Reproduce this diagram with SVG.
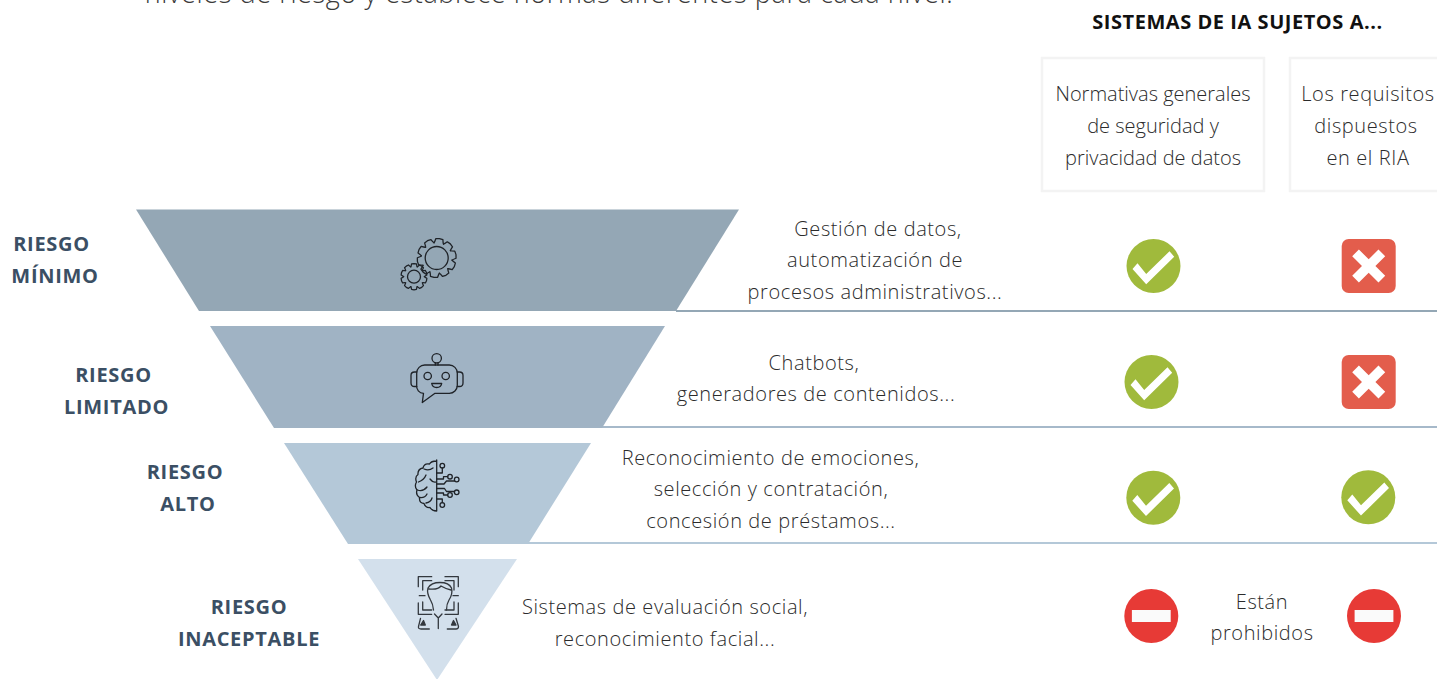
<svg xmlns="http://www.w3.org/2000/svg" xmlns:xlink="http://www.w3.org/1999/xlink" width="1437" height="679" viewBox="0 0 1437 679">
<style>
text{font-family:"Open Sans","Liberation Sans",sans-serif}
.t{font-size:20px;font-weight:300;fill:#2b2b2b;text-anchor:middle;letter-spacing:.6px}
.n{letter-spacing:0}
.l{font-size:20px;font-weight:700;fill:#3b4f64;text-anchor:middle;letter-spacing:.7px}
.i{fill:none;stroke:#1f2328;stroke-width:1.300;stroke-linecap:round;stroke-linejoin:round}
.b{fill:none;stroke:#f3f3f3;stroke-width:2.500}
.ok{fill:#a0ba3c}.no{fill:#e35d4c}.stop{fill:#e73a36}.w{fill:#fff}
</style>
<defs>
<path id="tooth" d="M-4.790-14.740Q-4.200-15.600-3.600-19L0-19.600 3.600-19Q4.200-15.600 4.790-14.740"/>
<g id="gear">
<use xlink:href="#tooth"/><use xlink:href="#tooth" transform="rotate(36)"/><use xlink:href="#tooth" transform="rotate(72)"/><use xlink:href="#tooth" transform="rotate(108)"/><use xlink:href="#tooth" transform="rotate(144)"/><use xlink:href="#tooth" transform="rotate(180)"/><use xlink:href="#tooth" transform="rotate(216)"/><use xlink:href="#tooth" transform="rotate(252)"/><use xlink:href="#tooth" transform="rotate(288)"/><use xlink:href="#tooth" transform="rotate(324)"/>
</g>
<g id="check"><circle class="ok" r="27"/><path class="w" d="M-21 3-16-2.700-7.300 8 16-14.700 20.700-9.300-7.300 18.300Z"/></g>
<g id="cross"><rect class="no" x="-27" y="-27" width="54" height="54" rx="7"/><path class="w" d="M-16.500-9.800-9.800-16.500 0-6.700 9.800-16.500 16.500-9.800 6.700 0 16.500 9.800 9.800 16.500 0 6.700-9.800 16.500-16.500 9.800-6.700 0Z"/></g>
<g id="stop"><circle class="stop" r="27"/><rect x="-19.400" y="-6" width="38.800" height="12" fill="#fafafa"/></g>
</defs>

<text id="intro" x="549" y="3" text-anchor="middle" style="font-size:27px;font-weight:300;fill:#3a3a3a;letter-spacing:.62px">niveles de riesgo y establece normas diferentes para cada nivel.</text>
<text id="header" x="1237.500" y="29" text-anchor="middle" style="font-size:20px;font-weight:700;fill:#111;letter-spacing:.55px">SISTEMAS DE IA SUJETOS A...</text>

<g id="col-general"><rect class="b" x="1042" y="58" width="222" height="133"/>
<text class="t n" x="1153" y="101">Normativas generales</text><text class="t n" x="1153" y="133">de seguridad y</text><text class="t n" x="1153" y="165">privacidad de datos</text></g>
<g id="col-ria"><rect class="b" x="1290" y="58" width="160" height="133"/>
<text class="t" x="1368" y="101">Los requisitos</text><text class="t" x="1366" y="133">dispuestos</text><text class="t" x="1368" y="165">en el RIA</text></g>

<g id="connectors" fill="none" stroke-width="2">
<path d="M676 311H1437" stroke="#94a7b5"/>
<path d="M602 427H1437" stroke="#a6b9ca"/>
<path d="M528 543H1437" stroke="#b4c8d8"/>
</g>

<g id="nivel-minimo">
<polygon points="136,209.500 739,209.500 676,311 199,311" fill="#94a7b5"/>
<g class="i"><circle cx="436.700" cy="258" r="11.500"/><use xlink:href="#gear" transform="translate(436.700,258) rotate(8)"/>
<circle cx="414" cy="276.700" r="6.500"/><use xlink:href="#gear" transform="translate(414,276.700) scale(.67)" style="stroke-width:1.900"/></g>
<text class="l" x="51.500" y="251">RIESGO</text><text class="l" x="55" y="282.500">MÍNIMO</text>
<text class="t" x="878" y="236">Gestión de datos,</text><text class="t" x="875" y="267">automatización de</text><text class="t" x="875" y="299">procesos administrativos...</text>
<use xlink:href="#check" x="1153.500" y="266"/><use xlink:href="#cross" x="1368.700" y="266"/>
</g>

<g id="nivel-limitado">
<polygon points="210,326 665,326 602,428 274,428" fill="#a0b3c4"/>
<g class="i"><circle cx="436.700" cy="358.300" r="4.700"/><path d="M435.300 363V365M438 363V365"/>
<path d="M424.700 365H449.300A8 8 0 0 1 457.300 373V385.300A8 8 0 0 1 449.300 393.300H435L422.300 402.500 423.500 393.300A7 7 0 0 1 416.700 385.300V373A8 8 0 0 1 424.700 365Z"/>
<path d="M416.700 372H414.500Q411 372 411 375.500V383Q411 386.500 414.500 386.500H416.700M457.300 372H459.500Q463 372 463 375.500V383Q463 386.500 459.500 386.500H457.300"/>
<circle cx="427.700" cy="376" r="3.700"/><circle cx="445.700" cy="376" r="3.700"/>
<path d="M431.700 383.500H441.700Q441 387.500 436.700 387.500T431.700 383.500Z"/></g>
<text class="l" x="113.500" y="382">RIESGO</text><text class="l" x="116.500" y="414">LIMITADO</text>
<text class="t" x="814" y="370">Chatbots,</text><text class="t" x="816" y="401">generadores de contenidos...</text>
<use xlink:href="#check" x="1151.500" y="382"/><use xlink:href="#cross" x="1368.700" y="382"/>
</g>

<g id="nivel-alto">
<polygon points="284,443 591,443 528,544 348,544" fill="#b4c8d8"/>
<g class="i"><path d="M436.700 460V511M436.700 461Q431 461 429.500 464Q424 463 423 468Q417.500 469 418 474.500Q414.500 477 416.500 482Q414 486 417 490Q415.500 495 419.500 497.500Q419 503 424 503.500Q425.500 508 430 507.500Q432 511 436.700 511"/>
<path d="M424 469Q429 471 433 468M418.500 482Q424 480 426 475M417.500 490Q423 492 427 487M420 497.500Q425 498 427 494M426 503Q431 502 432 498M430 479Q433 483 436 482"/>
<path d="M436.700 473H442.300V468M436.700 479H443.500V476.700H447.700M436.700 484H444L446.500 481H454.400M436.700 488.500H444.500L446.500 491.500H454.400M436.700 493H443.500V495H447.700M436.700 499H442.300V502.700"/>
<circle cx="442.300" cy="465.700" r="2.300"/><circle cx="450" cy="476.700" r="2.300"/><circle cx="456.700" cy="479.500" r="2.300"/><circle cx="456.700" cy="492.300" r="2.300"/><circle cx="450" cy="495" r="2.300"/><circle cx="442.300" cy="505" r="2.300"/></g>
<text class="l" x="185" y="479">RIESGO</text><text class="l" x="188" y="511">ALTO</text>
<text class="t" x="770.500" y="465">Reconocimiento de emociones,</text><text class="t" x="771" y="496">selección y contratación,</text><text class="t" x="771" y="528">concesión de préstamos...</text>
<use xlink:href="#check" x="1153.300" y="497.700"/><use xlink:href="#check" x="1368.300" y="497.300"/>
</g>

<g id="nivel-inaceptable">
<polygon points="358,559 517,559 437,680" fill="#d3e0ec"/>
<g class="i" style="stroke:#33383e"><path d="M431.700 576.700H418.300V586.700M445 576.700H458.300V586.700M431.700 580.700H422.700V590M445 580.700H454V590M419.300 595.700H425M453 595.700H458.300M418.300 603V614.300H431.700M458.300 603V614.300H445M422.700 602V610H431.700M454 602V610H445"/>
<path d="M433.500 610Q433 604 430.500 600Q426.500 593 428 588Q431 582.500 440 582.500Q449 582.500 451.500 588Q453 594 449 600Q446.500 604 446.500 610M429 589Q438 590 441 586Q446 589 451 590"/>
<path d="M438.300 618V628.500M434.500 614 438.300 618 442 614M420.500 618.300 418.500 626.500Q418 629 421 629H429.300M456 618.300 458.500 626.500Q458.500 629 456 629H447.300"/>
<path d="M420.700 625H425.300L423.500 620.500ZM451.500 625H456L453.500 620.500Z" fill="#33383e"/></g>
<text class="l" x="249" y="614">RIESGO</text><text class="l" x="249" y="646">INACEPTABLE</text>
<text class="t" x="665" y="614">Sistemas de evaluación social,</text><text class="t" x="665" y="646">reconocimiento facial...</text>
<use xlink:href="#stop" x="1151.300" y="616"/><use xlink:href="#stop" x="1374" y="616"/>
<text class="t" x="1262" y="609">Están</text><text class="t" x="1262" y="640">prohibidos</text>
</g>
</svg>
